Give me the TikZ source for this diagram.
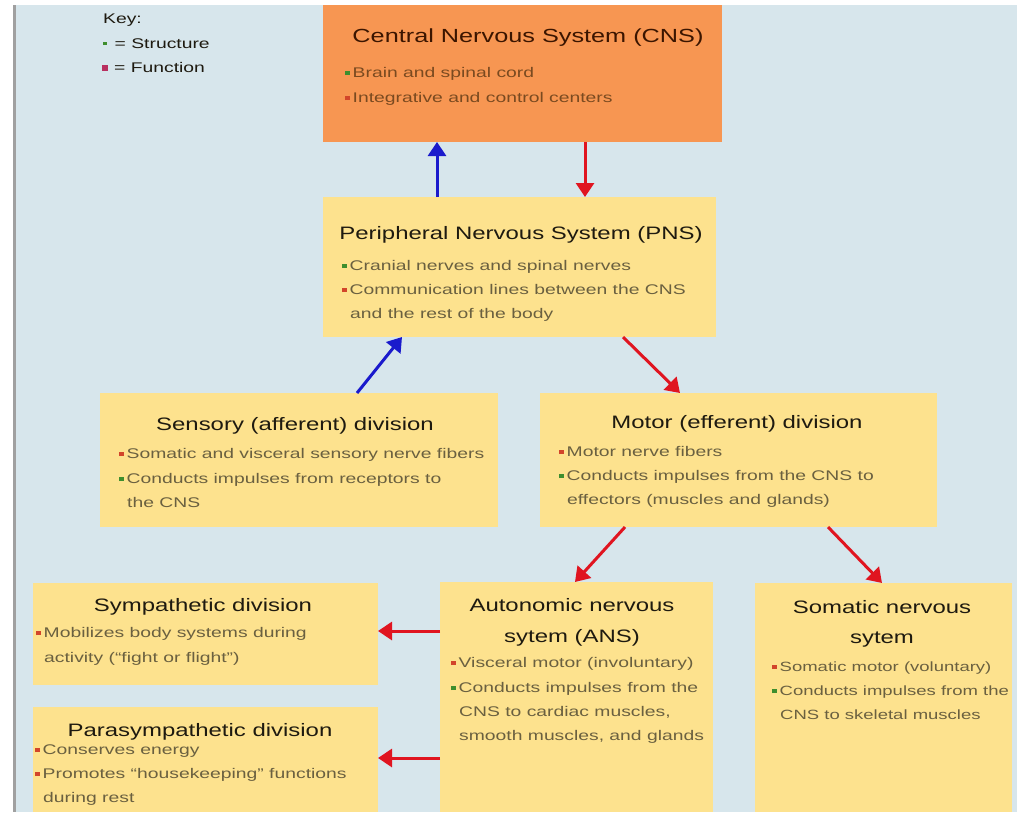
\documentclass[tikz,border=0pt]{standalone}
\usepackage{fontspec}
\setmainfont[FakeStretch=1.38]{Liberation Sans}
\newfontfamily\ttlfont[FakeStretch=1.33]{Liberation Sans}
\usetikzlibrary{arrows.meta}
\definecolor{bgblue}{HTML}{D7E6EC}
\definecolor{cnsor}{HTML}{F79652}
\definecolor{boxy}{HTML}{FDE28E}
\definecolor{bgreen}{HTML}{3E8E2E}
\definecolor{bred}{HTML}{D2452A}
\definecolor{keyred}{HTML}{B83060}
\definecolor{titlec}{HTML}{1E1A10}
\definecolor{cnstitle}{HTML}{3B1500}
\definecolor{bodyc}{HTML}{6A6040}
\definecolor{cnsbody}{HTML}{7A4A20}
\definecolor{arblue}{HTML}{1A1ACC}
\definecolor{arred}{HTML}{E01520}
\definecolor{grayline}{HTML}{A0A0A0}
\newcommand\gbul{\textcolor{bgreen}{\rule[2pt]{4.5pt}{4.5pt}}\hspace{3pt}}
\newcommand\rbul{\textcolor{bred}{\rule[2pt]{4.5pt}{4.5pt}}\hspace{3pt}}
\tikzset{
  box/.style={draw=none, fill=boxy, anchor=north west, inner sep=0pt, outer sep=0pt},
  ttl/.style={anchor=base, font=\ttlfont\fontsize{18}{31}\selectfont, text=titlec, inner sep=0pt},
  bt/.style={anchor=base west, font=\fontsize{14}{24}\selectfont, text=bodyc, inner sep=0pt},
  bts/.style={bt, font=\fontsize{13.4}{24}\selectfont},
  arr/.style={line width=3pt, -{Triangle[width=18pt,length=14pt]}},
}
\begin{document}
\begin{tikzpicture}[x=1pt,y=-1pt]
\useasboundingbox (0,0) rectangle (1017,812);
\fill[white] (0,0) rectangle (1017,812);
\fill[bgblue] (16,5) rectangle (1017,812);
\fill[grayline] (13,5) rectangle (15.5,812);

% key
\node[bt, text=titlec] (keyt) at (103,23) {Key:};
\node[bt, text=titlec] (keys) at (103,48) {\textcolor{bgreen}{\rule[3pt]{3.5pt}{3.5pt}}\hspace{8pt}= Structure};
\node[bt, text=titlec] (keyf) at (102,72) {\textcolor{keyred}{\rule[1.5pt]{6pt}{6pt}}\hspace{6pt}= Function};

% boxes
\node[box, fill=cnsor, minimum width=399pt, minimum height=137pt] (cns) at (323,5) {};
\node[box, minimum width=393pt, minimum height=140pt] (pns) at (323,197) {};
\node[box, minimum width=398pt, minimum height=134pt] (sen) at (100,393) {};
\node[box, minimum width=397pt, minimum height=134pt] (mot) at (540,393) {};
\node[box, minimum width=345pt, minimum height=102pt] (sym) at (33,583) {};
\node[box, minimum width=345pt, minimum height=105pt] (para) at (33,707) {};
\node[box, minimum width=273pt, minimum height=230pt] (ans) at (440,582) {};
\node[box, minimum width=257pt, minimum height=229pt] (som) at (755,583) {};

% CNS text
\node[ttl, text=cnstitle, font=\ttlfont\fontsize{19}{31}\selectfont] (cnst) at (528,42) {Central Nervous System (CNS)};
\node[bt, text=cnsbody] (cns1) at (345,77) {\gbul Brain and spinal cord};
\node[bt, text=cnsbody] (cns2) at (345,102) {\rbul Integrative and control centers};

% PNS text
\node[ttl] (pnst) at (521,239) {Peripheral Nervous System (PNS)};
\node[bt] (pns1) at (342,270) {\gbul Cranial nerves and spinal nerves};
\node[bt] (pns2) at (342,294) {\rbul Communication lines between the CNS};
\node[bt] (pns3) at (350,318) {and the rest of the body};

% Sensory text
\node[ttl] (sent) at (295,430) {Sensory (afferent) division};
\node[bt] (sen1) at (119,458) {\rbul Somatic and visceral sensory nerve fibers};
\node[bt] (sen2) at (119,483) {\gbul Conducts impulses from receptors to};
\node[bt] (sen3) at (127,507) {the CNS};

% Motor text
\node[ttl] (mott) at (737,428) {Motor (efferent) division};
\node[bt] (mot1) at (559,456) {\rbul Motor nerve fibers};
\node[bt] (mot2) at (559,480) {\gbul Conducts impulses from the CNS to};
\node[bt] (mot3) at (567,504) {effectors (muscles and glands)};

% Sympathetic text
\node[ttl] (symt) at (203,611) {Sympathetic division};
\node[bt] (sym1) at (36,637) {\rbul Mobilizes body systems during};
\node[bt] (sym2) at (44,662) {activity (“fight or flight”)};

% Parasympathetic text
\node[ttl] (parat) at (200,736) {Parasympathetic division};
\node[bt] (para1) at (35,754) {\rbul Conserves energy};
\node[bt] (para2) at (35,778) {\rbul Promotes “housekeeping” functions};
\node[bt] (para3) at (43,802) {during rest};

% ANS text
\node[ttl] (anst1) at (572,611) {Autonomic nervous};
\node[ttl] (anst2) at (572,642) {sytem (ANS)};
\node[bt] (ans1) at (451,667) {\rbul Visceral motor (involuntary)};
\node[bt] (ans2) at (451,692) {\gbul Conducts impulses from the};
\node[bt] (ans3) at (459,716) {CNS to cardiac muscles,};
\node[bt] (ans4) at (459,740) {smooth muscles, and glands};

% Somatic text
\node[ttl] (somt1) at (882,613) {Somatic nervous};
\node[ttl] (somt2) at (882,643) {sytem};
\node[bts] (som1) at (772,671) {\rbul Somatic motor (voluntary)};
\node[bts] (som2) at (772,695) {\gbul Conducts impulses from the};
\node[bts] (som3) at (780,719) {CNS to skeletal muscles};

% arrows
\draw[arr, arblue] ([xshift=114pt]pns.north west) -- ([xshift=114pt]cns.south west);
\draw[arr, arred] ([xshift=262pt]cns.south west) -- ([xshift=262pt]pns.north west);
\draw[arr, arblue] ([xshift=257pt]sen.north west) -- ([xshift=79pt]pns.south west);
\draw[arr, arred] ([xshift=300pt]pns.south west) -- ([xshift=140pt]mot.north west);
\draw[arr, arred] ([xshift=85pt]mot.south west) -- ([xshift=135pt]ans.north west);
\draw[arr, arred] ([xshift=288pt]mot.south west) -- ([xshift=127pt]som.north west);
\draw[arr, arred] ([yshift=-49pt]ans.north west) -- ([yshift=-48pt]sym.north east);
\draw[arr, arred] ([yshift=-176pt]ans.north west) -- ([yshift=-51pt]para.north east);
\end{tikzpicture}
\end{document}
